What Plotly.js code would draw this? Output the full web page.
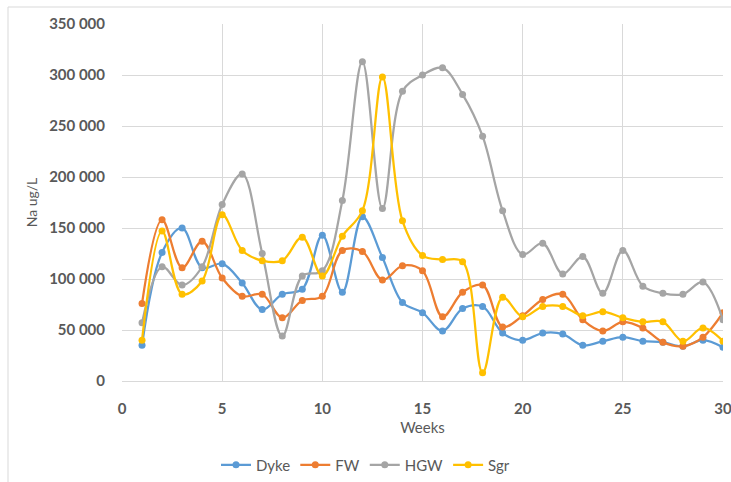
<!DOCTYPE html>
<html><head><meta charset="utf-8">
<script src="https://cdn.plot.ly/plotly-3.0.1.min.js"></script>
<style>html,body{margin:0;padding:0;background:#fff}#chart{width:731px;height:482px}</style>
</head><body><div id="chart"></div>
<script>
const weeks = [1,2,3,4,5,6,7,8,9,10,11,12,13,14,15,16,17,18,19,20,21,22,23,24,25,26,27,28,29,30];
const dyke = [35000,126000,150000,111000,115000,96000,70000,85000,90000,143000,87000,161000,121000,77000,67000,49000,71000,73000,47000,40000,47000,46000,35000,39000,43000,39000,38000,34000,40000,33000];
const fw   = [76000,158000,111000,137000,101000,83000,85000,62000,79000,83000,128000,127000,99000,113000,108000,63000,87000,94000,53000,64000,80000,85000,60000,49000,58000,52000,38000,34000,43000,67000];
const hgw  = [57000,112000,94000,112000,173000,203000,125000,44000,103000,108000,177000,313000,169000,284000,300000,307000,281000,240000,167000,124000,135000,105000,122000,86000,128000,93000,86000,85000,97000,60000];
const sgr  = [40000,147000,85000,98000,163000,128000,118000,118000,141000,103000,142000,167000,298000,157000,123000,119000,117000,8000,82000,63000,73000,73000,64000,68000,62000,58000,58000,39000,52000,39000];
const names = ['Dyke','FW','HGW','Sgr'];
const colors = ['#5B9BD5','#ED7D31','#A5A5A5','#FFC000'];
const series = [dyke, fw, hgw, sgr];

const traces = series.map((ys,i)=>({
  x: weeks, y: ys, name: names[i], type:'scatter', mode:'lines+markers',
  line:{color:colors[i], width:2.25, shape:'spline', smoothing:1},
  marker:{color:colors[i], size:7}
}));

const font = "Lato, 'Open Sans', sans-serif";
const layout = {
  width:731, height:482,
  margin:{l:122, r:8, t:24, b:101},
  paper_bgcolor:'#fff', plot_bgcolor:'#fff',
  separators:'. ',
  font:{family:font, color:'#595959', size:14},
  xaxis:{range:[0,30], dtick:5, tick0:0, showgrid:true, gridcolor:'#D9D9D9', gridwidth:1,
    zeroline:false, showline:true, linecolor:'#D9D9D9', ticks:'', ticklabelstandoff:14,
    ticklabeloverflow:'allow', automargin:false,
    tickfont:{family:font, size:15, color:'#595959', weight:'bold'},
    title:{text:'Weeks', font:{family:font, size:15, color:'#595959'}, standoff:6}},
  yaxis:{range:[0,350000], dtick:50000, tickformat:',d', showgrid:true, gridcolor:'#D9D9D9', gridwidth:1,
    zeroline:false, showline:false, ticks:'', ticklabelstandoff:16, automargin:false,
    tickfont:{family:font, size:15, color:'#595959', weight:'bold'},
    title:{text:'Na ug/L', font:{family:font, size:14, color:'#595959'}, standoff:8}},
  showlegend:true,
  legend:{orientation:'h', xref:'container', yref:'container', x:0.5, xanchor:'center',
    y:1-465/482, yanchor:'middle',
    font:{family:font, size:15, color:'#595959'}, itemwidth:30, tracegroupgap:0},
  shapes:[{type:'rect', xref:'paper', yref:'paper',
    x0:(8-122)/601, x1:(800-122)/601, y0:-(600-381)/357, y1:1+(24-7)/357,
    line:{color:'#D9D9D9', width:1}, layer:'below'}]
};
Plotly.newPlot('chart', traces, layout, {displayModeBar:false, staticPlot:true});
</script></body></html>
